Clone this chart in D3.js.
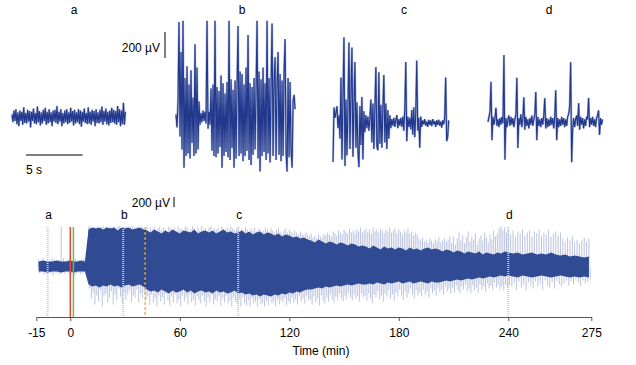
<!DOCTYPE html>
<html>
<head>
<meta charset="utf-8">
<script src="https://cdn.jsdelivr.net/npm/d3@7"></script>
<style>
  body { margin: 0; background: #fff; }
  svg { display: block; font-family: "Liberation Sans", Arial, Helvetica, sans-serif; }
</style>
</head>
<body>
<svg id="chart" width="636" height="365"></svg>
<script>
// ---- top panels: one sample per column, µV ----
const traceA = [20,-40,50,-30,60,-55,35,-70,50,-30,40,-60,75,-45,30,-50,55,-35,45,-80,
  40,-30,65,-50,30,-55,80,-40,45,-65,35,-50,55,-30,70,-60,40,-50,60,-40,
  35,-70,50,-35,55,-45,85,-55,40,-35,60,-70,30,-50,50,-40,60,-55,35,-45,
  70,-35,45,-65,55,-50,35,-40,60,-55,50,-75,40,-35,65,-45,30,-55,75,-50,
  40,-60,55,-35,45,-70,60,-45,35,-50,55,-40,80,-60,45,-35,65,-55,40,-65,
  50,-45,70,-40,55,-50,45,-60,85,-40,60,-70,50,-55,110,-60,40];
const traceB = [20,-80,120,730,-150,500,-250,740,-390,300,-300,390,-280,250,-320,360,-200,150,-300,560,
  -280,380,-250,120,-60,30,-40,50,-30,40,-50,740,-90,40,-60,220,-260,250,-300,740,
  -310,230,-280,200,-230,320,-390,260,-300,180,-270,270,-310,740,-330,290,-240,210,-390,280,
  -320,240,700,-300,350,-280,330,-340,250,-300,380,-260,630,-330,260,-370,230,-290,300,-250,
  200,740,-320,350,-420,290,-300,380,-270,260,-330,740,-280,300,-350,250,720,-300,280,460,
  -330,250,500,-290,330,-340,280,-300,350,600,-270,-420,300,-310,270,-250,-390,120,170,60];
const traceC = [-300,120,40,80,130,-40,60,-120,350,-280,200,660,-330,180,-250,140,620,-200,230,580,
  -260,150,470,-190,160,-220,-340,130,-170,200,-280,90,-70,60,-40,50,-60,40,180,-150,
  150,-200,120,430,-180,-210,390,-160,140,-190,110,370,-150,150,-200,100,-120,60,-40,30,
  -20,40,-30,20,60,-40,30,-20,40,-30,50,-60,110,470,-140,50,-30,40,-50,100,
  -90,120,-110,80,480,-60,40,-190,50,-30,20,-10,30,-20,10,-30,25,-15,20,-25,
  30,-10,15,-30,20,-15,25,-20,10,-35,20,-10,40,350,-140,-110,20];
const traceD = [0,40,80,310,-140,40,-20,30,110,-30,20,-40,30,-20,40,-10,515,-290,30,-40,
  20,50,-30,40,-20,30,-40,20,60,340,-200,30,-20,60,-40,30,190,-60,40,-30,
  20,-50,30,-20,50,-30,20,60,230,-140,40,-30,20,-40,30,-20,50,185,-50,30,
  -40,20,-30,40,-20,30,-50,40,245,-140,30,-40,20,-30,40,-20,30,-40,20,-30,
  40,60,120,460,-310,-60,30,-40,20,50,-30,145,-60,40,-20,30,-50,20,-30,40,
  20,185,-40,30,-20,40,-30,20,-40,30,50,90,-100,30,-20,20];
const panelKeys = ['a', 'b', 'c', 'd'];
const panelSec = [10, 10.5, 10.2, 10.1];

// ---- bottom trace (time in min, µV) ----
// dense core envelope, one node every 2 min from -14 to 274
const coreStart = -14;
const coreStep = 2;
const coreUp = [100,120,100,100,120,100,100,120,100,100,120,100,
  740,780,760,780,740,780,760,780,720,780,760,780,740,760,780,740,
  720,680,740,700,660,720,680,740,700,660,720,700,680,740,660,700,720,680,720,660,700,740,680,700,660,
  680,720,660,700,640,680,700,640,680,660,620,660,600,640,620,580,600,560,580,540,
  520,480,540,500,460,500,480,440,480,460,420,460,440,400,420,
  400,360,420,380,340,400,360,380,340,380,360,320,380,340,360,320,360,380,340,360,
  340,300,340,320,280,320,300,260,300,280,260,300,240,280,260,240,280,260,300,280,
  260,280,240,260,280,240,260,240,280,240,220,240,200,220,200,180,200];
const coreDown = [-100,-100,-120,-100,-100,-120,-100,-100,-120,-100,-100,-100,
  -360,-400,-380,-420,-380,-400,-360,-400,-380,-420,-380,-360,-400,-380,-360,-400,
  -460,-500,-480,-520,-460,-500,-540,-480,-520,-500,-460,-520,-480,-540,-500,-480,-520,-500,-540,-480,-520,-500,-540,-520,-480,
  -540,-520,-560,-540,-580,-560,-600,-560,-580,-600,-560,-580,-540,-560,-520,-540,-500,-520,-480,-460,
  -460,-440,-420,-440,-400,-420,-400,-380,-400,-380,-360,-380,-360,-340,-360,
  -360,-340,-360,-320,-340,-360,-320,-340,-320,-300,-340,-320,-300,-340,-320,-300,-320,-340,-300,-320,
  -320,-300,-280,-300,-280,-260,-280,-260,-240,-260,-240,-220,-240,-220,-200,-220,-200,-180,-200,-180,
  -200,-220,-180,-200,-220,-200,-180,-200,-220,-200,-180,-200,-220,-200,-220,-200,-220];

// largest excursion in each minute from -14 to 274
const spikeStart = -14;
const spikeUp = [140,120,160,120,140,120,160,140,120,140,800,160,120,140,180,120,140,160,120,140,120,160,140,
  300,800,
  800,760,800,780,800,740,800,800,760,800,780,800,720,800,760,800,800,740,800,780,800,760,800,800,780,740,800,760,800,780,
  760,800,720,780,740,800,700,760,800,720,780,740,680,800,760,720,780,700,800,740,760,720,800,780,700,740,800,760,680,780,
  720,800,740,760,700,780,800,720,760,740,780,700,800,760,720,780,740,800,760,720,
  740,780,700,760,720,800,740,680,760,720,780,700,740,760,680,720,780,740,700,760,
  720,680,740,780,700,660,720,760,680,740,700,660,720,680,640,700,660,620,680,640,
  600,660,580,620,560,640,600,580,660,620,680,640,600,700,660,620,720,680,640,740,700,660,760,680,720,660,740,700,780,680,
  720,760,680,740,660,780,700,740,680,760,720,660,740,700,780,680,720,760,660,740,700,640,720,680,760,660,700,620,680,640,
  560,520,580,500,540,480,560,520,460,540,500,580,480,520,560,500,540,600,
  480,600,440,560,680,520,620,460,580,700,500,600,540,660,440,560,620,520,680,580,480,640,540,720,600,660,760,
  800,720,780,680,740,
  640,720,600,700,660,740,620,680,720,600,700,660,740,620,680,640,720,600,660,700,620,680,
  560,500,580,520,600,480,540,460,520,580,500,560];
const spikeDown = [-140,-120,-160,-140,-120,-140,-180,-120,-140,-160,-120,-140,-120,-160,-140,-120,-180,-140,-120,-160,-140,-120,-140,
  -240,-440,
  -640,-520,-760,-580,-700,-480,-800,-600,-540,-720,-620,-500,-760,-560,-680,-440,-600,-740,-520,-660,-560,-480,-700,-580,-620,-460,-720,-540,-640,-520,
  -680,-600,-760,-560,-720,-640,-800,-580,-700,-620,-760,-540,-680,-780,-600,-720,-560,-740,-660,-800,-580,-700,-620,-760,-560,
  -720,-660,-780,-600,-680,-740,-580,-700,-800,-620,-720,-560,-760,-660,-700,-600,-780,-640,-720,-580,-740,-680,-800,-620,-700,
  -760,-660,-800,-620,-720,-780,-680,-800,-640,-740,-700,-800,-660,-760,-720,-800,-680,-780,-620,-740,
  -700,-800,-660,-760,-680,-720,-640,-780,-700,-740,-620,-720,-660,-760,-600,-700,-640,-740,-580,-680,
  -660,-760,-600,-720,-640,-780,-580,-680,-740,-620,-700,-560,-660,-720,-600,-680,-540,-640,-700,-580,-660,-520,-620,-680,-560,-640,-600,-700,-540,-620,
  -580,-680,-540,-640,-720,-560,-620,-500,-660,-580,-700,-540,-600,-480,-640,-560,-680,-520,-600,-460,-580,-660,-500,-620,-540,-440,-560,-640,-480,-580,
  -520,-600,-460,-560,-500,-620,-440,-540,-480,-580,-420,-520,-460,-560,-400,-500,-440,-540,
  -420,-520,-380,-480,-540,-400,-460,-360,-500,-440,-540,-380,-480,-420,-520,-360,-460,-400,-500,-340,-440,-380,-480,-320,-420,-360,-460,
  -400,-480,-360,-440,-380,
  -400,-340,-460,-300,-420,-360,-480,-320,-380,-440,-300,-400,-340,-460,-280,-380,-420,-320,-440,-300,-360,-400,
  -340,-280,-380,-300,-360,-260,-320,-380,-280,-340,-300,-260];

const markTimes = [-10, 29, 92, 240];
const markLabels = ['a', 'b', 'c', 'd'];
const drugTimes = [0, 1.7];
const washTime = 41;
const tickVals = [-15, 0, 60, 120, 180, 240, 275];

// ---- drawing ----
const dark = '#22388c';
const light = '#a9b4d7';
const coreFill = '#304b94';

const svg = d3.select('#chart');
const g = svg.append('g');

const secScale = d3.scaleLinear().domain([0, 5]).range([0, 56.7]);
const uvTop = d3.scaleLinear().domain([0, 200]).range([0, -26]);

const panelX = [12, 176, 333, 488];
const panelBase = [117, 117, 123, 122];
const labelX = [74, 242, 404, 549];
const traces = [traceA, traceB, traceC, traceD];

traces.forEach((vals, k) => {
  const x = d3.scaleLinear()
    .domain([0, vals.length - 1])
    .range([panelX[k], panelX[k] + secScale(panelSec[k])]);
  const line = d3.line()
    .x((d, i) => x(i))
    .y((d) => panelBase[k] + uvTop(d));
  g.append('path')
    .attr('d', line(vals))
    .attr('fill', 'none')
    .attr('stroke', light)
    .attr('stroke-width', 2.2);
  g.append('path')
    .attr('d', line(vals))
    .attr('fill', 'none')
    .attr('stroke', dark)
    .attr('stroke-width', 1.1);
  g.append('text')
    .attr('x', labelX[k])
    .attr('y', 14)
    .attr('text-anchor', 'middle')
    .attr('font-size', '12px')
    .text(panelKeys[k]);
});

// top scale bars
g.append('line')
  .attr('x1', 165).attr('x2', 165)
  .attr('y1', 58).attr('y2', 58 + uvTop(200))
  .attr('stroke', '#000').attr('stroke-width', 1);
g.append('text')
  .attr('x', 160).attr('y', 52)
  .attr('text-anchor', 'end')
  .attr('font-size', '12px')
  .text('200 µV');

g.append('line')
  .attr('x1', 26).attr('x2', 26 + secScale(5))
  .attr('y1', 155).attr('y2', 155)
  .attr('stroke', '#000').attr('stroke-width', 1);
g.append('text')
  .attr('x', 26).attr('y', 174)
  .attr('font-size', '12px')
  .text('5 s');

// bottom trace
const xBot = d3.scaleLinear()
  .domain([-15, 0, 240, 275])
  .range([36.3, 70.3, 508.3, 591.3]);
const yBot = d3.scaleLinear().domain([0, 200]).range([266.5, 256.5]);

const spikes = g.append('g')
  .attr('stroke', light)
  .attr('stroke-width', 0.8);
spikeUp.forEach((v, i) => {
  spikes.append('line')
    .attr('x1', xBot(spikeStart + i)).attr('x2', xBot(spikeStart + i))
    .attr('y1', yBot(0)).attr('y2', yBot(v));
});
spikeDown.forEach((v, i) => {
  spikes.append('line')
    .attr('x1', xBot(spikeStart + i + 0.5)).attr('x2', xBot(spikeStart + i + 0.5))
    .attr('y1', yBot(0)).attr('y2', yBot(v));
});

const core = coreUp.map((hi, i) => ({ t: coreStart + i * coreStep, hi, lo: coreDown[i] }));
g.append('path')
  .attr('d', d3.area()
    .x((d) => xBot(d.t))
    .y0((d) => yBot(d.lo))
    .y1((d) => yBot(d.hi))(core))
  .attr('fill', coreFill);

const markTop = 227;
const axisY = 317;

markTimes.forEach((t, i) => {
  g.append('line')
    .attr('x1', xBot(t)).attr('x2', xBot(t))
    .attr('y1', markTop).attr('y2', axisY)
    .attr('stroke', '#cdcdcd')
    .attr('stroke-width', 2)
    .attr('stroke-dasharray', '1,1');
  g.append('text')
    .attr('x', xBot(t) + 1)
    .attr('y', 219)
    .attr('text-anchor', 'middle')
    .attr('font-size', '12px')
    .text(markLabels[i]);
});

const drugColors = ['#e2492f', '#74b64e'];
drugTimes.forEach((t, i) => {
  g.append('line')
    .attr('x1', xBot(t)).attr('x2', xBot(t))
    .attr('y1', markTop).attr('y2', axisY)
    .attr('stroke', drugColors[i])
    .attr('stroke-width', 1.5);
});

g.append('line')
  .attr('x1', xBot(washTime)).attr('x2', xBot(washTime))
  .attr('y1', markTop).attr('y2', axisY)
  .attr('stroke', '#f0a830')
  .attr('stroke-width', 1.3)
  .attr('stroke-dasharray', '3,2');
g.append('line')
  .attr('x1', xBot(washTime)).attr('x2', xBot(washTime))
  .attr('y1', markTop).attr('y2', yBot(-400))
  .attr('stroke', '#3c3c3c')
  .attr('stroke-width', 1.3)
  .attr('stroke-dasharray', '2,3')
  .attr('stroke-dashoffset', -3);

// bottom scale bar
g.append('line')
  .attr('x1', 174).attr('x2', 174)
  .attr('y1', 207).attr('y2', 207 - (yBot(0) - yBot(200)))
  .attr('stroke', '#000').attr('stroke-width', 1);
g.append('text')
  .attr('x', 170).attr('y', 207)
  .attr('text-anchor', 'end')
  .attr('font-size', '12px')
  .text('200 µV');

// axis
const axis = d3.axisBottom(xBot)
  .tickValues(tickVals)
  .tickSize(4)
  .tickSizeOuter(0)
  .tickPadding(7)
  .tickFormat((d) => String(d));
const ax = g.append('g')
  .attr('transform', `translate(0,${axisY})`)
  .call(axis);
ax.select('.domain').attr('stroke', '#555');
ax.selectAll('.tick line').attr('stroke', '#555');
ax.selectAll('.tick text')
  .attr('font-size', '12px')
  .attr('fill', '#000')
  .attr('font-family', '"Liberation Sans", Arial, sans-serif');

g.append('text')
  .attr('x', 321)
  .attr('y', 355)
  .attr('text-anchor', 'middle')
  .attr('font-size', '12px')
  .text('Time (min)');
</script>
</body>
</html>
